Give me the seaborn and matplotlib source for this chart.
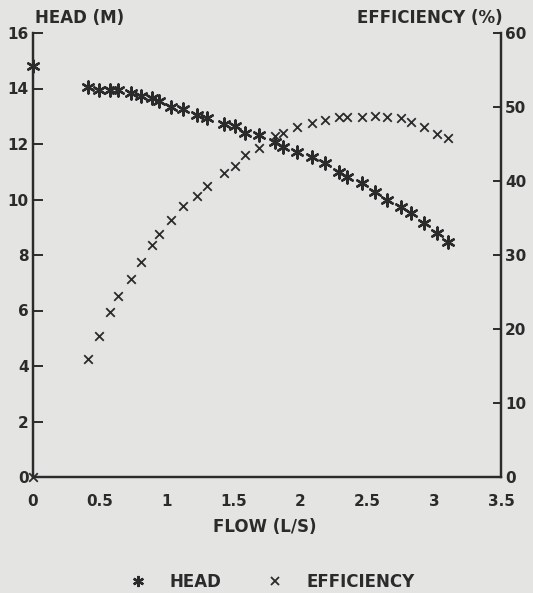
import matplotlib
matplotlib.use("Agg")
import matplotlib.pyplot as plt
import seaborn as sns
import pandas as pd
from matplotlib.lines import Line2D

sns.set_style("white")
plt.rcParams['font.family'] = ['DejaVu Sans']
plt.rcParams['font.weight'] = 'bold'

# ---- data ----
flow = [0.0, 0.414, 0.496, 0.576, 0.638, 0.733, 0.805, 0.888, 0.945, 1.03,
        1.124, 1.229, 1.304, 1.43, 1.51, 1.585, 1.69, 1.81, 1.872, 1.972,
        2.085, 2.184, 2.289, 2.351, 2.458, 2.558, 2.65, 2.75, 2.825, 2.924,
        3.02, 3.106]
head = [14.8, 14.04, 13.95, 13.95, 13.95, 13.83, 13.73, 13.65, 13.56, 13.32,
        13.25, 13.04, 12.93, 12.72, 12.65, 12.41, 12.32, 12.08, 11.90, 11.72,
        11.52, 11.30, 11.0, 10.82, 10.61, 10.28, 9.98, 9.74, 9.52, 9.16,
        8.80, 8.48]
efficiency = [0.0, 15.9, 19.0, 22.3, 24.4, 26.8, 29.0, 31.4, 32.9, 34.7,
              36.6, 38.0, 39.3, 41.1, 42.0, 43.5, 44.4, 46.1, 46.5, 47.3,
              47.8, 48.2, 48.7, 48.7, 48.7, 48.8, 48.6, 48.5, 48.0, 47.3,
              46.4, 45.8]
x_ticks = [0, 0.5, 1, 1.5, 2, 2.5, 3, 3.5]
x_ticklabels = ["0", "0.5", "1", "1.5", "2", "2.5", "3", "3.5"]
head_ticks = [0, 2, 4, 6, 8, 10, 12, 14, 16]
eff_ticks = [0, 10, 20, 30, 40, 50, 60]

df = pd.DataFrame({"flow": flow, "head": head, "efficiency": efficiency})

ink = "#2b2b2b"
bg = "#e4e4e2"

fig = plt.figure(figsize=(5.33, 5.93), dpi=100, facecolor=bg)
ax = fig.add_axes([33/533, 1-477/593, (501-33)/533, (477-33)/593])
ax.set_facecolor(bg)
ax2 = ax.twinx()

head_marker = (6, 2, 0)
sns.scatterplot(data=df, x="flow", y="head", ax=ax, marker=head_marker, s=75,
                color=ink, edgecolor=ink, linewidth=1.7, clip_on=False, zorder=3)
sns.scatterplot(data=df, x="flow", y="efficiency", ax=ax2, marker="x", s=38,
                color=ink, linewidth=1.3, clip_on=False, zorder=3)

ax.set_xlim(0, 3.5)
ax.set_ylim(0, 16)
ax2.set_ylim(0, 60)
ax.set_xticks(x_ticks)
ax.set_xticklabels(x_ticklabels)
ax.set_yticks(head_ticks)
ax2.set_yticks(eff_ticks)
ax.set_xlabel("")
ax.set_ylabel("")
ax2.set_ylabel("")

for a in (ax, ax2):
    a.spines['top'].set_visible(False)
    for s in ('left', 'right', 'bottom'):
        a.spines[s].set_color(ink)
        a.spines[s].set_linewidth(1.6)
    a.grid(False)

ax.tick_params(axis='x', direction='in', length=6, width=1.4, color=ink,
               labelsize=11, labelcolor=ink, pad=12)
ax.tick_params(axis='y', direction='in', length=7, width=1.4, color=ink,
               labelsize=11, labelcolor=ink, pad=3, right=False)
ax2.tick_params(axis='y', direction='in', length=6, width=1.4, color=ink,
                labelsize=11, labelcolor=ink, pad=3)
for lab in ax.get_xticklabels() + ax.get_yticklabels() + ax2.get_yticklabels():
    lab.set_fontweight('bold')

fig.text(35/533, 1-18/593, "HEAD (M)", ha='left', va='center',
         fontsize=12, fontweight='bold', color=ink)
fig.text(503/533, 1-18/593, "EFFICIENCY (%)", ha='right', va='center',
         fontsize=12, fontweight='bold', color=ink)
fig.text(265/533, 1-527/593, "FLOW (L/S)", ha='center', va='center',
         fontsize=12, fontweight='bold', color=ink)

handles = [Line2D([], [], linestyle='none', marker=head_marker, markersize=8,
                  color=ink, markeredgewidth=1.7),
           Line2D([], [], linestyle='none', marker='x', markersize=6,
                  color=ink, markeredgewidth=1.3)]
leg = fig.legend(handles, ["HEAD", "EFFICIENCY"], loc='center',
                 bbox_to_anchor=(268/533, 1-582/593), ncol=2, frameon=False,
                 handletextpad=0.9, columnspacing=2.2,
                 prop={'weight': 'bold', 'size': 12})
for t in leg.get_texts():
    t.set_color(ink)

fig.savefig("out.png", dpi=100, facecolor=bg)
